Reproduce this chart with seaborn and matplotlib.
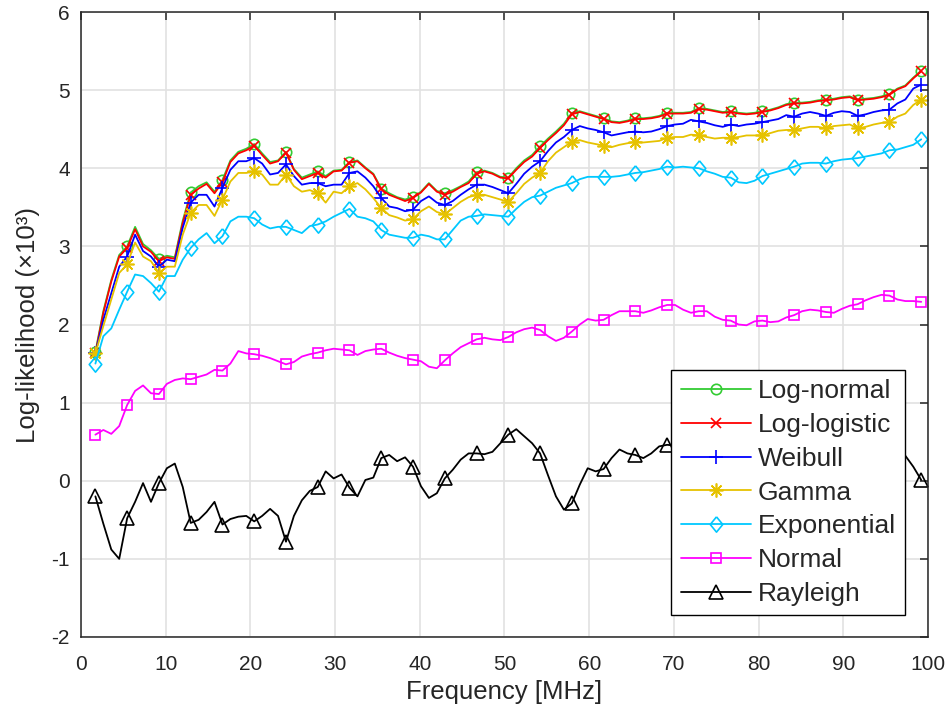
import numpy as np
import pandas as pd
import matplotlib
matplotlib.use("Agg")
import matplotlib.pyplot as plt
import seaborn as sns

# Frequency sampling grid (MHz)
freq = np.linspace(1.7, 99.2, 105)

log_normal = [
    1.65, 2.17, 2.57, 2.89, 3.00, 3.25, 3.03, 2.95, 2.84, 2.88,
    2.86, 3.33, 3.69, 3.77, 3.82, 3.70, 3.85, 4.10, 4.21, 4.25,
    4.31, 4.19, 4.08, 4.10, 4.21, 3.99, 3.88, 3.92, 3.96, 3.90,
    3.97, 3.98, 4.08, 4.10, 4.01, 3.93, 3.74, 3.68, 3.63, 3.60,
    3.63, 3.70, 3.81, 3.71, 3.68, 3.72, 3.77, 3.83, 3.95, 3.97,
    3.94, 3.89, 3.88, 4.00, 4.10, 4.17, 4.28, 4.38, 4.47, 4.57,
    4.71, 4.73, 4.70, 4.67, 4.64, 4.60, 4.59, 4.61, 4.64, 4.64,
    4.65, 4.67, 4.71, 4.71, 4.71, 4.72, 4.77, 4.76, 4.74, 4.72,
    4.73, 4.71, 4.70, 4.71, 4.73, 4.75, 4.78, 4.82, 4.84, 4.84,
    4.85, 4.87, 4.88, 4.89, 4.91, 4.92, 4.88, 4.89, 4.90, 4.92,
    4.95, 5.02, 5.06, 5.16, 5.25]

log_logistic = [
    1.63, 2.15, 2.55, 2.87, 2.98, 3.22, 3.00, 2.93, 2.81, 2.86,
    2.84, 3.30, 3.66, 3.74, 3.80, 3.68, 3.82, 4.08, 4.19, 4.23,
    4.29, 4.17, 4.06, 4.09, 4.20, 3.98, 3.86, 3.90, 3.94, 3.88,
    3.96, 3.97, 4.07, 4.09, 4.00, 3.92, 3.73, 3.66, 3.62, 3.58,
    3.62, 3.69, 3.80, 3.70, 3.66, 3.70, 3.76, 3.81, 3.93, 3.96,
    3.93, 3.88, 3.87, 3.98, 4.08, 4.15, 4.26, 4.36, 4.45, 4.55,
    4.69, 4.72, 4.69, 4.66, 4.63, 4.59, 4.58, 4.60, 4.63, 4.63,
    4.64, 4.66, 4.70, 4.70, 4.70, 4.71, 4.76, 4.75, 4.73, 4.71,
    4.72, 4.70, 4.69, 4.70, 4.72, 4.74, 4.77, 4.81, 4.83, 4.83,
    4.84, 4.86, 4.87, 4.88, 4.90, 4.91, 4.87, 4.88, 4.89, 4.91,
    4.94, 5.01, 5.05, 5.15, 5.24]

weibull = [
    1.63, 2.06, 2.40, 2.74, 2.87, 3.15, 2.94, 2.87, 2.74, 2.83,
    2.81, 3.24, 3.56, 3.66, 3.66, 3.51, 3.75, 3.98, 4.09, 4.09,
    4.13, 4.06, 3.92, 3.94, 4.05, 3.90, 3.79, 3.81, 3.81, 3.77,
    3.79, 3.79, 3.94, 3.96, 3.88, 3.77, 3.62, 3.51, 3.49, 3.45,
    3.47, 3.58, 3.64, 3.56, 3.53, 3.58, 3.66, 3.73, 3.79, 3.79,
    3.76, 3.72, 3.68, 3.80, 3.93, 4.02, 4.09, 4.22, 4.33, 4.40,
    4.49, 4.54, 4.51, 4.49, 4.46, 4.42, 4.44, 4.46, 4.47, 4.46,
    4.47, 4.50, 4.54, 4.56, 4.57, 4.62, 4.60, 4.58, 4.55, 4.53,
    4.56, 4.54, 4.56, 4.57, 4.59, 4.61, 4.63, 4.68, 4.66, 4.70,
    4.72, 4.70, 4.67, 4.71, 4.73, 4.72, 4.67, 4.69, 4.72, 4.74,
    4.75, 4.83, 4.88, 5.02, 5.07]

gamma = [
    1.63, 1.98, 2.32, 2.66, 2.77, 3.05, 2.87, 2.81, 2.66, 2.74,
    2.74, 3.15, 3.43, 3.53, 3.53, 3.39, 3.60, 3.83, 3.94, 3.94,
    3.96, 3.92, 3.79, 3.79, 3.92, 3.77, 3.70, 3.72, 3.68, 3.56,
    3.70, 3.68, 3.77, 3.81, 3.73, 3.62, 3.49, 3.40, 3.37, 3.33,
    3.35, 3.45, 3.51, 3.44, 3.41, 3.49, 3.57, 3.63, 3.66, 3.66,
    3.63, 3.60, 3.57, 3.68, 3.80, 3.88, 3.94, 4.09, 4.20, 4.27,
    4.34, 4.36, 4.33, 4.31, 4.29, 4.27, 4.30, 4.32, 4.34, 4.33,
    4.34, 4.35, 4.39, 4.40, 4.40, 4.43, 4.42, 4.40, 4.38, 4.39,
    4.39, 4.40, 4.42, 4.42, 4.42, 4.45, 4.48, 4.49, 4.49, 4.51,
    4.53, 4.53, 4.51, 4.54, 4.55, 4.56, 4.51, 4.53, 4.56, 4.58,
    4.59, 4.66, 4.70, 4.81, 4.88]

exponential = [
    1.50, 1.85, 1.95, 2.19, 2.42, 2.64, 2.62, 2.53, 2.42, 2.62,
    2.62, 2.83, 2.98, 3.09, 3.17, 3.04, 3.13, 3.32, 3.38, 3.38,
    3.36, 3.28, 3.23, 3.25, 3.25, 3.21, 3.17, 3.26, 3.28, 3.32,
    3.38, 3.43, 3.48, 3.38, 3.36, 3.32, 3.21, 3.15, 3.13, 3.11,
    3.11, 3.15, 3.13, 3.09, 3.09, 3.21, 3.33, 3.38, 3.39, 3.41,
    3.40, 3.39, 3.38, 3.48, 3.57, 3.63, 3.65, 3.70, 3.75, 3.78,
    3.81, 3.86, 3.89, 3.89, 3.89, 3.89, 3.90, 3.92, 3.94, 3.95,
    3.97, 3.99, 4.02, 4.01, 4.02, 4.01, 4.00, 3.96, 3.93, 3.89,
    3.88, 3.82, 3.81, 3.84, 3.90, 3.93, 3.96, 3.99, 4.02, 4.06,
    4.07, 4.07, 4.06, 4.09, 4.11, 4.12, 4.13, 4.15, 4.17, 4.19,
    4.23, 4.24, 4.27, 4.30, 4.37]

normal = [
    0.59, 0.65, 0.60, 0.70, 0.97, 1.15, 1.22, 1.12, 1.11, 1.24,
    1.29, 1.31, 1.30, 1.33, 1.36, 1.42, 1.41, 1.50, 1.66, 1.63,
    1.62, 1.60, 1.57, 1.53, 1.49, 1.52, 1.59, 1.62, 1.64, 1.67,
    1.69, 1.68, 1.67, 1.61, 1.66, 1.68, 1.69, 1.64, 1.60, 1.57,
    1.55, 1.53, 1.46, 1.44, 1.54, 1.63, 1.71, 1.76, 1.81, 1.83,
    1.81, 1.80, 1.84, 1.90, 1.94, 1.96, 1.93, 1.85, 1.79, 1.83,
    1.91, 2.00, 2.07, 2.05, 2.06, 2.12, 2.17, 2.17, 2.17, 2.15,
    2.18, 2.22, 2.25, 2.25, 2.19, 2.15, 2.17, 2.17, 2.10, 2.06,
    2.05, 2.00, 1.99, 2.04, 2.05, 2.03, 2.04, 2.09, 2.12, 2.17,
    2.19, 2.18, 2.16, 2.15, 2.20, 2.24, 2.26, 2.31, 2.35, 2.38,
    2.37, 2.32, 2.30, 2.30, 2.29]

rayleigh = [
    -0.20, -0.55, -0.88, -1.00, -0.48, -0.27, -0.03, -0.27, -0.03, 0.16,
    0.22, -0.08, -0.54, -0.50, -0.40, -0.27, -0.56, -0.49, -0.46, -0.45,
    -0.52, -0.45, -0.36, -0.45, -0.78, -0.45, -0.25, -0.13, -0.08, 0.12,
    0.03, 0.08, -0.09, -0.20, 0.01, 0.04, 0.29, 0.33, 0.25, 0.30,
    0.18, -0.07, -0.22, -0.16, 0.03, 0.14, 0.27, 0.35, 0.35, 0.34,
    0.37, 0.48, 0.59, 0.66, 0.57, 0.48, 0.35, 0.07, -0.20, -0.37,
    -0.29, -0.05, 0.16, 0.12, 0.15, 0.29, 0.40, 0.35, 0.33, 0.29,
    0.35, 0.44, 0.46, 0.45, 0.42, 0.40, 0.44, 0.48, 0.50, 0.47,
    0.43, 0.40, 0.42, 0.46, 0.50, 0.52, 0.49, 0.45, 0.42, 0.40,
    0.43, 0.47, 0.50, 0.48, 0.44, 0.41, 0.40, 0.43, 0.46, 0.44,
    0.40, 0.36, 0.32, 0.18, 0.01]

labels = ["Log-normal", "Log-logistic", "Weibull", "Gamma",
          "Exponential", "Normal", "Rayleigh"]
values = [log_normal, log_logistic, weibull, gamma, exponential, normal, rayleigh]
colors = ["#33cc33", "#ff0000", "#0000ff", "#e6c200", "#00c8ff", "#ff00ff", "#000000"]
diamond = [(0, 1), (0.82, 0), (0, -1), (-0.82, 0), (0, 1)]
markers = ["o", "x", "+", (8, 2, 0), diamond, "s", "^"]
msizes = [7.5, 7.5, 10, 10, 11, 7.5, 10]

sns.set_style("white")
plt.rcParams["font.family"] = ["Liberation Sans", "DejaVu Sans"]
plt.rcParams["axes.unicode_minus"] = False

fig = plt.figure(figsize=(9.53, 7.18), dpi=100)
ax = fig.add_axes([81 / 953, 1 - 637 / 718, 847 / 953, 625 / 718])

for lab, vals, col, mk, ms in zip(labels, values, colors, markers, msizes):
    df = pd.DataFrame({"f": freq, "v": vals})
    sns.lineplot(data=df, x="f", y="v", ax=ax, color=col, linewidth=1.3,
                 marker=mk, markersize=ms, markevery=4,
                 markerfacecolor="none", markeredgecolor=col,
                 markeredgewidth=1.2, label=lab, estimator=None, sort=False)

ax.set_xlim(0, 100)
ax.set_ylim(-2, 6)
ax.set_xticks(np.arange(0, 101, 10))
ax.set_yticks(np.arange(-2, 7, 1))
ax.grid(True, color="#e2e2e2", linewidth=1.2)
ax.set_axisbelow(True)
for sp in ax.spines.values():
    sp.set_color("#262626")
    sp.set_linewidth(1.1)
ax.tick_params(direction="in", length=6, width=1.1, top=True, right=True,
               labelsize=15, colors="#262626")
ax.tick_params(axis="x", pad=13)
ax.tick_params(axis="y", pad=8)
ax.set_xlabel("Frequency [MHz]", fontsize=18.5, color="#262626", labelpad=4.5)
ax.set_ylabel("Log-likelihood (×10³)", fontsize=18.5, color="#262626", labelpad=8)

leg = ax.legend(loc="lower right", bbox_to_anchor=(0.973, 0.035), fontsize=19,
                frameon=True, fancybox=False, framealpha=1, edgecolor="#000000",
                handlelength=2.65, borderaxespad=0, labelspacing=0.37,
                handletextpad=0.27, borderpad=0.35)
leg.get_frame().set_linewidth(1.0)

fig.savefig("out.png", dpi=100)
